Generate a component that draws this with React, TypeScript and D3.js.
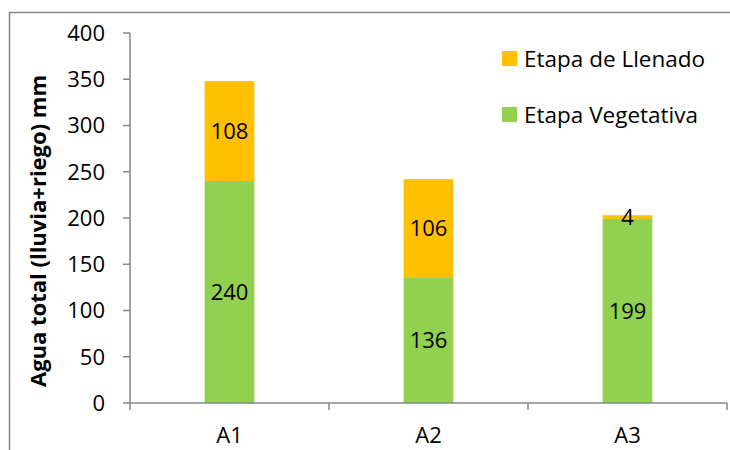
import React from "react";
import * as d3 from "d3";

const categories = ["A1", "A2", "A3"];
const vegetativa = [240, 136, 199];
const llenado = [108, 106, 4];
const yTicks = [0, 50, 100, 150, 200, 250, 300, 350, 400];
const seriesNames = ["Etapa de Llenado", "Etapa Vegetativa"];
const seriesColors = ["#FFC000", "#92D050"];

const W = 730;
const H = 450;
const FONT = "'Open Sans', 'Noto Sans', sans-serif";
const FS = 22;

export default function App() {
  const plot = { left: 130, right: 727, top: 33, bottom: 403 };
  const x = d3.scaleBand().domain(categories).range([plot.left, plot.right]).paddingInner(0).paddingOuter(0);
  const y = d3.scaleLinear().domain([0, 400]).range([plot.bottom, plot.top]);
  const barW = x.bandwidth() * 0.25;
  const axisColor = "#868686";

  const stacks = categories.map((c, i) => ({
    c,
    segs: [
      { v: vegetativa[i], y0: 0, y1: vegetativa[i], color: seriesColors[1] },
      { v: llenado[i], y0: vegetativa[i], y1: vegetativa[i] + llenado[i], color: seriesColors[0] },
    ],
  }));

  const boundaries = [...categories.map((c) => x(c)!), plot.right];

  return (
    <div style={{ position: "fixed", left: 0, top: 0, width: W, height: H, overflow: "hidden" }}>
      <svg width={W} height={H} style={{ display: "block", fontFamily: FONT }}>
        <rect x={0} y={0} width={W} height={H} fill="#fff" />
        {/* chart frame (top and left edges inside the view) */}
        <path d={`M9.5,${H}V12.5H${W}`} fill="none" stroke="#868686" strokeWidth={1.5} />

        {/* bars */}
        {stacks.map((s) =>
          s.segs.map((seg, j) => {
            const cx = x(s.c)! + x.bandwidth() / 2;
            const yTop = y(seg.y1);
            const yBot = y(seg.y0);
            return (
              <rect key={s.c + j} x={cx - barW / 2} y={yTop} width={barW} height={yBot - yTop} fill={seg.color} />
            );
          })
        )}

        {/* data labels */}
        {stacks.map((s) =>
          s.segs.map((seg, j) => {
            const cx = x(s.c)! + x.bandwidth() / 2;
            const cy = y((seg.y0 + seg.y1) / 2);
            return (
              <text key={"l" + s.c + j} x={cx} y={cy} dy="0.36em" textAnchor="middle" fontSize={FS} fill="#000">
                {seg.v}
              </text>
            );
          })
        )}

        {/* y axis */}
        <line x1={plot.left} x2={plot.left} y1={plot.top} y2={plot.bottom} stroke={axisColor} strokeWidth={1.5} />
        {yTicks.map((t) => (
          <g key={t}>
            <line x1={plot.left - 7} x2={plot.left} y1={y(t)} y2={y(t)} stroke={axisColor} strokeWidth={1.5} />
            <text x={105} y={y(t)} dy="0.36em" textAnchor="end" fontSize={FS} fill="#000">
              {t}
            </text>
          </g>
        ))}

        {/* x axis */}
        <line x1={plot.left} x2={plot.right} y1={plot.bottom} y2={plot.bottom} stroke={axisColor} strokeWidth={1.5} />
        {boundaries.map((b, i) => (
          <line key={i} x1={b} x2={b} y1={plot.bottom} y2={plot.bottom + 7} stroke={axisColor} strokeWidth={1.5} />
        ))}
        {categories.map((c) => (
          <text key={c} x={x(c)! + x.bandwidth() / 2} y={443} textAnchor="middle" fontSize={FS} fill="#000">
            {c}
          </text>
        ))}

        {/* y axis title */}
        <text
          transform={`translate(46, 231) rotate(-90)`}
          textAnchor="middle"
          fontSize={22}
          fontWeight="bold"
          fill="#000"
        >
          Agua total (lluvia+riego) mm
        </text>

        {/* legend */}
        {seriesNames.map((n, i) => (
          <g key={n} transform={`translate(502, ${51 + i * 56})`}>
            <rect x={0} y={0} width={15} height={15} fill={seriesColors[i]} />
            <text x={22} y={7.5} dy="0.36em" fontSize={22.5} fill="#000">
              {n}
            </text>
          </g>
        ))}
      </svg>
    </div>
  );
}
